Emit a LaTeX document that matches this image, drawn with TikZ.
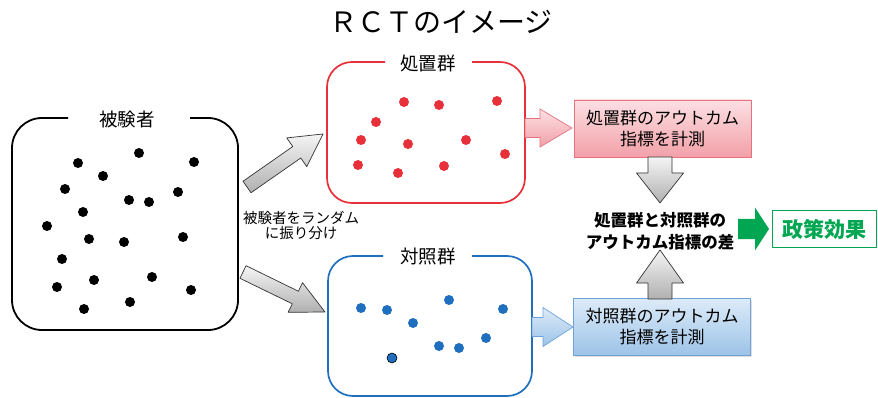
\documentclass[tikz,border=0pt]{standalone}
\usepackage{fontspec}
\setmainfont{Noto Sans CJK JP}
\usetikzlibrary{shadows}
\definecolor{myred}{HTML}{E8303A}
\definecolor{myblue}{HTML}{1F6FBE}
\definecolor{mygreen}{HTML}{00A651}
\definecolor{pinktop}{HTML}{FCE0E3}
\definecolor{pinkbot}{HTML}{F2A0A8}
\definecolor{pinkline}{HTML}{E5727E}
\definecolor{bluetop}{HTML}{DDEBF8}
\definecolor{bluebot}{HTML}{9CC3E8}
\definecolor{blueline}{HTML}{6FA3D8}
\newcommand\barrow[7]{%
  \begin{scope}[shift={#2},rotate=#3]
    \draw[#1] (0,-#6) -- ({#4-#5},-#6) -- ({#4-#5},-#7) -- (#4,0) -- ({#4-#5},#7) -- ({#4-#5},#6) -- (0,#6) -- cycle;
  \end{scope}}
\tikzset{
  grayarrow/.style={draw=black!80, line width=0.7pt, line join=round, top color=gray!8, bottom color=gray!62},
  pinkarrow/.style={draw=pinkline, line width=0.7pt, top color=pinktop, bottom color=pinkbot},
  bluearrow/.style={draw=blueline, line width=0.7pt, top color=bluetop, bottom color=bluebot},
  grouptitle/.style={font=\fontsize{18.5}{20}\selectfont, inner sep=0pt},
  resbox/.style={minimum width=177, minimum height=57, align=center, inner sep=0pt,
     font=\fontsize{17}{21}\selectfont, drop shadow={opacity=0.25, shadow xshift=1.2pt, shadow yshift=-1.2pt}},
}
\begin{document}
\begin{tikzpicture}[x=1pt,y=-1pt]
\useasboundingbox (0,0) rectangle (878,398);
\fill[white] (0,0) rectangle (878,398);

% title
\node[font=\fontsize{28}{30}\selectfont, inner sep=0pt] (title) at (441,22) {ＲＣＴのイメージ};

% subjects box
\draw[line width=1.8pt, rounded corners=30] (190,118) -- (238,118) -- (238,330) -- (12,330) -- (12,118) -- (68,118);
\node[grouptitle] (subj) at (127,119) {被験者};
\foreach \p in {(78,163),(139,153),(194,162),(103,176),(65,189),(129,200),(149,202),(178,192),(83,212),(47,226),(89,239),(124,242),(183,237),(62,259),(94,280),(152,277),(57,287),(191,290),(130,302),(84,309)}
  \fill[black] \p circle[radius=5pt];

% treatment box
\draw[myred, line width=1.7pt, rounded corners=25] (472,62) -- (525,62) -- (525,203) -- (327,203) -- (327,62) -- (385,62);
\node[grouptitle] (treat) at (428,63) {処置群};
\foreach \p in {(404,102),(439,105),(497,101),(376,122),(361,140),(408,144),(466,140),(358,165),(398,173),(444,166),(505,154)}
  \fill[myred] \p circle[radius=5pt];

% control box
\draw[myblue, line width=1.7pt, rounded corners=25] (472,256) -- (532,256) -- (532,396) -- (328,396) -- (328,256) -- (383,256);
\node[grouptitle] (ctrl) at (428,257) {対照群};
\foreach \p in {(361,308),(387,310),(413,323),(449,300),(503,309),(486,338),(439,346),(459,348)}
  \fill[myblue] \p circle[radius=5pt];
\filldraw[fill=myblue, draw=black, line width=0.6pt] (392,358) circle[radius=5pt];

% random assignment label
\node[font=\fontsize{14.5}{15}\selectfont, align=center, inner sep=0pt] (rand) at (301,225) {被験者をランダム\\に振り分け};

% diagonal gray arrows
\barrow{grayarrow}{(247,187)}{34.9}{92.7}{32}{7}{17.5}
\barrow{grayarrow}{(243,272)}{-26}{91.2}{33}{7}{16.5}

% result boxes
\node[resbox, draw=pinkline, line width=0.8pt, top color=pinktop, bottom color=pinkbot] (tm) at (662.5,128.5) {処置群のアウトカム\\指標を計測};
\node[resbox, draw=blueline, line width=0.8pt, top color=bluetop, bottom color=bluebot] (cm) at (662,327) {対照群のアウトカム\\指標を計測};

% arrows into result boxes
\barrow{pinkarrow}{(525,128)}{0}{47}{32}{9.5}{19}
\barrow{bluearrow}{(532,327)}{0}{41}{30}{9.5}{19.5}

% difference
\node[font=\bfseries\fontsize{16.5}{22}\selectfont, align=center, inner sep=0pt] (diff) at (660,231) {処置群と対照群の\\アウトカム指標の差};

% vertical gray arrows
\barrow{grayarrow}{(660,157)}{-90}{46}{30}{12}{23.5}
\barrow{grayarrow}{(660,299)}{90}{49}{33}{12}{23.5}

% green arrow and effect box
\barrow{fill=mygreen, draw=none}{(738,229)}{0}{31}{14}{10}{21.5}
\node[draw=mygreen, line width=1.8pt, minimum width=104, minimum height=37, inner sep=0pt,
      text=mygreen, font=\bfseries\fontsize{21}{24}\selectfont] (eff) at (824.5,229) {政策効果};
\end{tikzpicture}
\end{document}
